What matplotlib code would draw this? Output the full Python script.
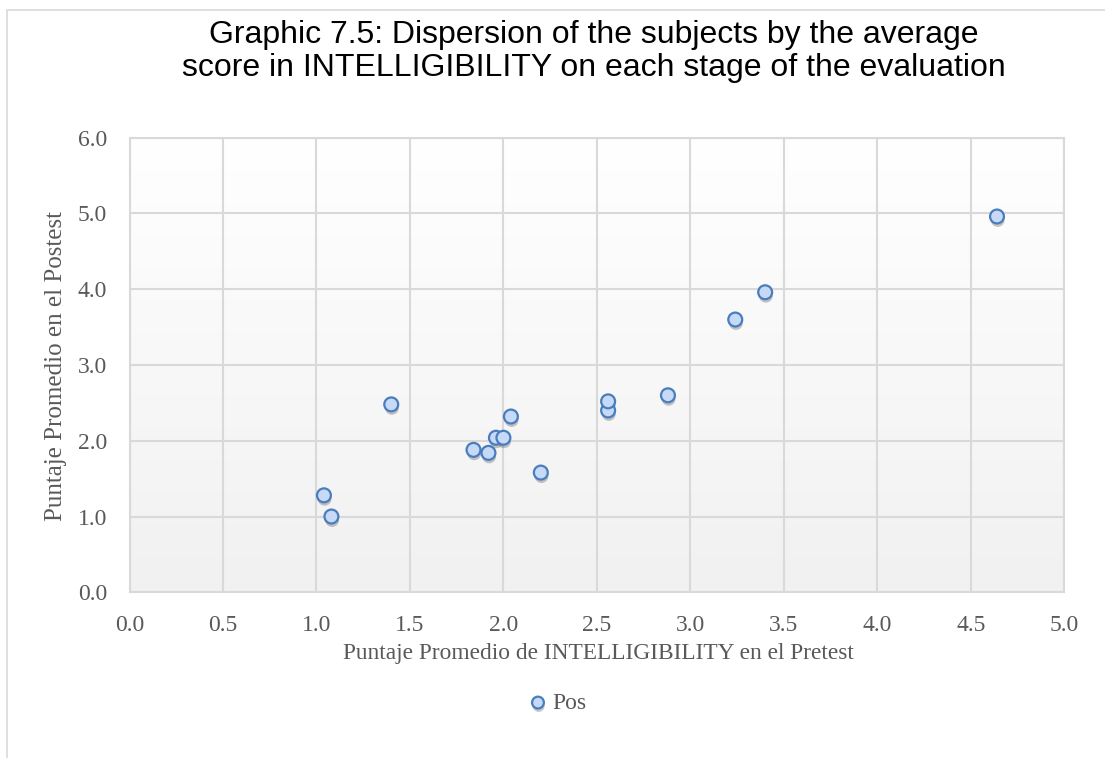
import numpy as np
import matplotlib
matplotlib.use('Agg')
import matplotlib.pyplot as plt
import matplotlib.patheffects as pe
from matplotlib.patches import Rectangle

# Puntaje promedio por sujeto (pretest / postest)
pretest = [1.04, 1.08, 1.40, 1.84, 1.92, 1.96, 2.00, 2.04, 2.20, 2.56, 2.56, 2.88, 3.24, 3.40, 4.64]
postest = [1.28, 1.00, 2.48, 1.88, 1.84, 2.04, 2.04, 2.32, 1.58, 2.40, 2.52, 2.60, 3.60, 3.96, 4.96]
series_name = 'Pos'

title = ('Graphic 7.5: Dispersion of the subjects by the average\n'
         'score in INTELLIGIBILITY on each stage of the evaluation')
xlabel = 'Puntaje Promedio de INTELLIGIBILITY en el Pretest'
ylabel = 'Puntaje Promedio en el Postest'
xticks = np.arange(0, 5.01, 0.5)
yticks = np.arange(0, 6.01, 1.0)

W, H = 1105, 758
fig = plt.figure(figsize=(W / 100, H / 100), dpi=100)
fig.patch.set_facecolor('white')

# marco del grafico
fig.patches.append(Rectangle((6.7 / W, -0.1), 1.2, 1.1 - 10.5 / H, transform=fig.transFigure,
                             fill=False, edgecolor='#d9d9d9', linewidth=1.2, zorder=0))

ax = fig.add_axes([129.5 / W, 1 - 592.3 / H, (1064.3 - 129.5) / W, (592.3 - 137.7) / H])

# fondo degradado (blanco arriba, gris abajo)
grad = np.linspace(1.0, 0.945, 256).reshape(-1, 1)
ax.imshow(np.dstack([grad, grad, grad]), extent=[0, 5, 0, 6], origin='upper', aspect='auto',
          zorder=0, interpolation='bilinear')
ax.set_xlim(0, 5)
ax.set_ylim(0, 6)

ax.set_xticks(xticks)
ax.set_yticks(yticks)
ax.set_xticklabels([f'{v:.1f}' for v in xticks])
ax.set_yticklabels([f'{v:.1f}' for v in yticks])
ax.grid(True, color='#d9d9d9', linewidth=1.5, zorder=1)
ax.set_axisbelow(True)
for s in ax.spines.values():
    s.set_color('#d9d9d9')
    s.set_linewidth(1.5)
ax.tick_params(length=0, labelsize=17, labelcolor='#595959')
ax.tick_params(axis='x', pad=16)
ax.tick_params(axis='y', pad=16)
for lab in ax.get_xticklabels() + ax.get_yticklabels():
    lab.set_family('Liberation Serif')

sc = ax.scatter(pretest, postest, s=100, facecolor='#c6daf8', edgecolor='#4a7dbb',
                linewidth=1.6, zorder=3, label=series_name, clip_on=False)
sc.set_path_effects([pe.SimplePatchShadow(offset=(0.5, -2.5), shadow_rgbFace='#000000', alpha=0.22),
                     pe.Normal()])

fig.text(594 / W, 1 - 51.5 / H, title, ha='center', va='center', fontsize=23,
         family='Liberation Sans', color='black', linespacing=1.12)
fig.text(598 / W, 1 - 654 / H, xlabel, ha='center', va='center', fontsize=16.8,
         family='Liberation Serif', color='#595959')
fig.text(56 / W, 1 - 366 / H, ylabel, ha='center', va='center', fontsize=18,
         family='Liberation Serif', color='#595959', rotation=90)

leg = fig.legend(handles=[sc], labels=[series_name], loc='center', bbox_to_anchor=(558 / W, 1 - 703 / H),
                 frameon=False, handlelength=0.7, handletextpad=0.25, markerscale=0.85,
                 borderpad=0, prop={'family': 'Liberation Serif', 'size': 17})
for t in leg.get_texts():
    t.set_color('#595959')

fig.savefig('out.png', dpi=100)
